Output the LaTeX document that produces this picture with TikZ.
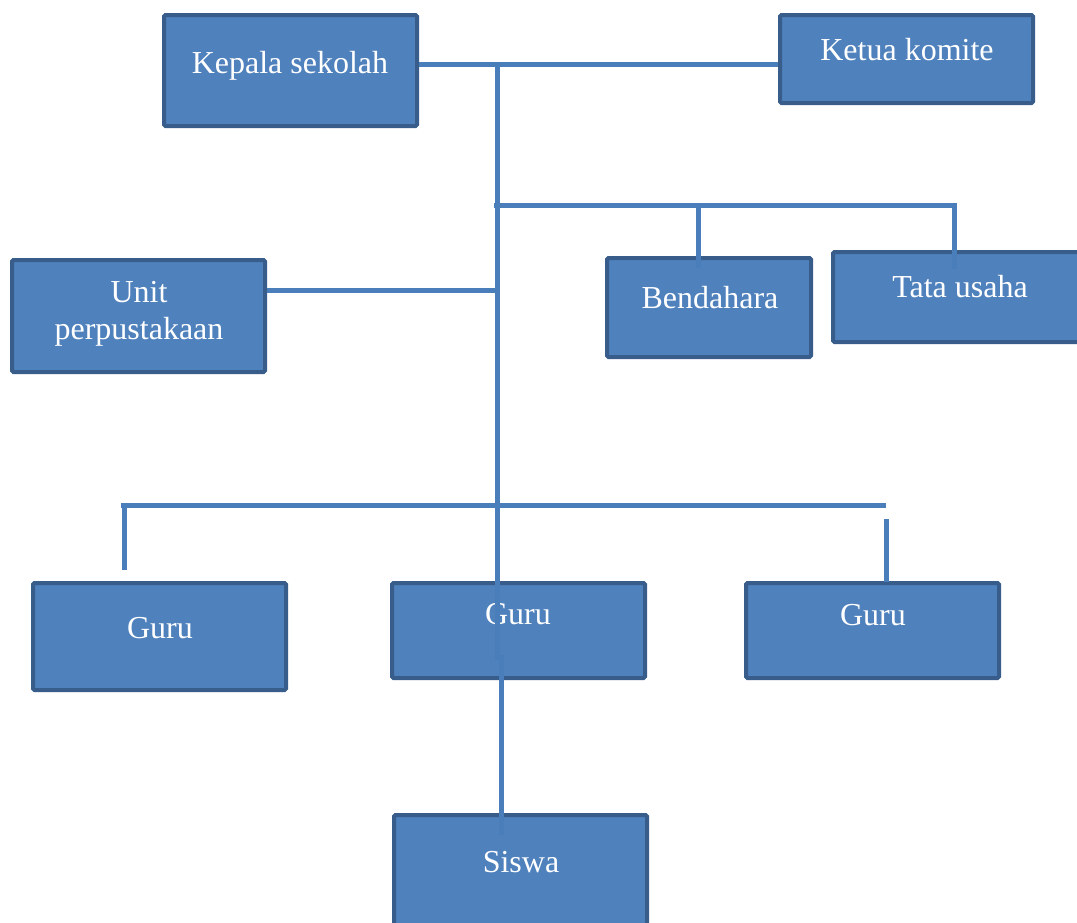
\documentclass[tikz,border=0pt]{standalone}
\usepackage{fontspec}
\setmainfont{Liberation Serif}
\definecolor{boxfill}{HTML}{4F81BD}
\definecolor{boxedge}{HTML}{385D8A}
\definecolor{linkc}{HTML}{4A7EBB}
\begin{document}
\begin{tikzpicture}[x=1pt,y=-1pt,
  box/.style={draw=boxedge, fill=boxfill, line width=4pt, rounded corners=1.5pt, inner sep=0pt},
  txt/.style={text=white, font=\fontsize{32}{37}\selectfont, inner sep=0pt, align=center},
  conn/.style={draw=linkc, line width=5pt}]
\useasboundingbox (0,0) rectangle (1077,922);
\clip (0,0) rectangle (1077,922);
\fill[white] (0,0) rectangle (1077,922);
% boxes
\node[box, minimum width=253, minimum height=111] (kepala) at (290.5,70.5) {};
\node[box, minimum width=253, minimum height=88] (ketua) at (906.5,59) {};
\node[box, minimum width=253, minimum height=112] (unit) at (138.5,316) {};
\node[box, minimum width=204, minimum height=99] (bendahara) at (709,307.5) {};
\node[box, minimum width=253, minimum height=90] (tata) at (959.5,297) {};
\node[box, minimum width=253, minimum height=107] (guru1) at (159.5,636.5) {};
\node[box, minimum width=253, minimum height=95] (guru2) at (518.5,630.5) {};
\node[box, minimum width=253, minimum height=95] (guru3) at (872.5,630.5) {};
\node[box, minimum width=253, minimum height=110] (siswa) at (520.5,870) {};
% texts
\node[txt, anchor=base] (kepala-t) at (290,73) {Kepala sekolah};
\node[txt, anchor=base] (ketua-t) at (907,60) {Ketua komite};
\node[txt, anchor=base] (unit-t1) at (139,302) {Unit};
\node[txt, anchor=base] (unit-t2) at (139,339) {perpustakaan};
\node[txt, anchor=base] (bendahara-t) at (710,308) {Bendahara};
\node[txt, anchor=base] (tata-t) at (960,297) {Tata usaha};
\node[txt, anchor=base] (guru1-t) at (160,638) {Guru};
\node[txt, anchor=base] (guru2-t) at (518,624) {Guru};
\node[txt, anchor=base] (guru3-t) at (873,625) {Guru};
\node[txt, anchor=base] (siswa-t) at (521,872) {Siswa};
% junction coordinates
\coordinate (top) at (497,64);
\coordinate (mid) at (497,660);
\coordinate (adm) at (494,205);
\coordinate (adm-b) at (698,205);
\coordinate (adm-t) at (954,205);
\coordinate (lib) at (497,290);
\coordinate (gl) at (121,505);
\coordinate (gr) at (886,505);
\coordinate (g1) at (124,505);
\coordinate (g1-end) at (124,570);
\coordinate (g3-start) at (886,519);
\coordinate (s-start) at (501,655);
\coordinate (s-end) at (501,835);
% connectors
\draw[conn] (kepala.east |- top) -- (ketua.west |- top);
\draw[conn] (top) -- (mid);
\draw[conn] (adm) -- (adm-t) -- (adm-t |- tata.north) -- ++(0,19);
\draw[conn] (adm-b) -- (adm-b |- bendahara.north) -- ++(0,12);
\draw[conn] (unit.east |- lib) -- (lib);
\draw[conn] (gl) -- (gr);
\draw[conn] (g1) -- (g1-end);
\draw[conn] (g3-start) -- (g3-start |- guru3.north) -- ++(0,1);
\draw[conn] (s-start) -- (s-end);
\end{tikzpicture}
\end{document}
